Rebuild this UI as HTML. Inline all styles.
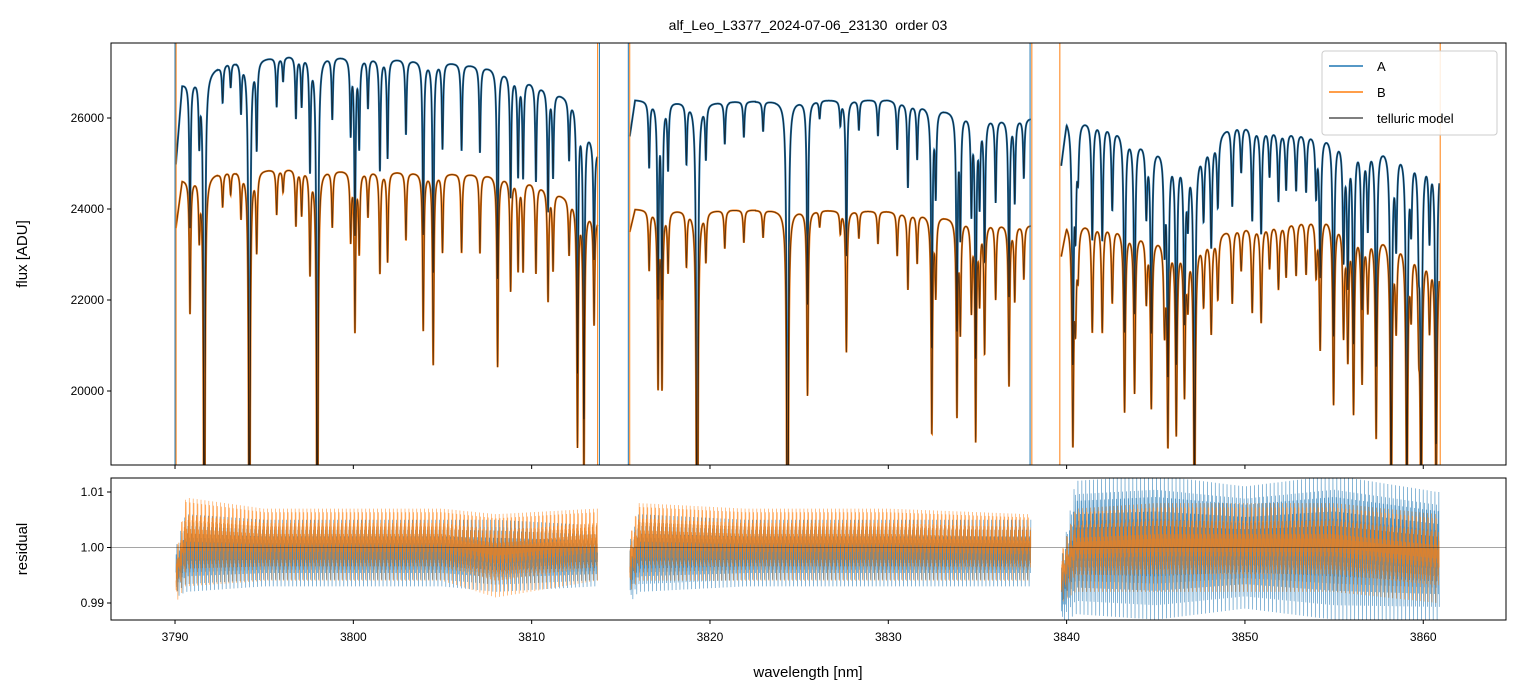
<!DOCTYPE html>
<html><head><meta charset="utf-8">
<style>
html,body{margin:0;padding:0;background:#fff;width:1520px;height:696px;overflow:hidden;}
svg{display:block;font-family:"Liberation Sans","DejaVu Sans",sans-serif;}
</style></head>
<body>
<svg id="chart" width="1520" height="696" viewBox="0 0 1520 696">
<defs>
<clipPath id="clipTop"><rect x="111" y="43" width="1395" height="422"/></clipPath>
<clipPath id="clipBot"><rect x="111" y="478" width="1395" height="142"/></clipPath>
</defs>
<text x="808" y="30" text-anchor="middle" font-size="14">alf_Leo_L3377_2024-07-06_23130&#160; order 03</text>
<g id="topData" clip-path="url(#clipTop)"></g>
<g id="botData" clip-path="url(#clipBot)"></g>
<rect x="111" y="43" width="1395" height="422" fill="none" stroke="#000" stroke-width="1"/>
<rect x="111" y="478" width="1395" height="142" fill="none" stroke="#000" stroke-width="1"/>
<g id="axesG"></g>
<text transform="translate(27,254) rotate(-90)" text-anchor="middle" font-size="15">flux [ADU]</text>
<text transform="translate(27,549) rotate(-90)" text-anchor="middle" font-size="15">residual</text>
<text x="808" y="677" text-anchor="middle" font-size="15">wavelength [nm]</text>
<g>
<rect x="1322" y="51" width="175" height="84" rx="3" fill="#fff" fill-opacity="0.85" stroke="#ccc"/>
<line x1="1329" y1="66" x2="1363" y2="66" stroke="#1f77b4" stroke-width="1.5"/>
<text x="1377" y="71" font-size="13">A</text>
<line x1="1329" y1="92" x2="1363" y2="92" stroke="#ff7f0e" stroke-width="1.5"/>
<text x="1377" y="97" font-size="13">B</text>
<line x1="1329" y1="118" x2="1363" y2="118" stroke="#555" stroke-width="1.5"/>
<text x="1377" y="123" font-size="13">telluric model</text>
</g>
</svg>
<script>
// ---- data ----
const xTicks = [3790,3800,3810,3820,3830,3840,3850,3860];
const fluxTicks = [20000,22000,24000,26000];
const resTicks = [0.99,1.00,1.01];
const resTickLabels = ["0.99","1.00","1.01"];
const segStart = [3790.05, 3815.5, 3839.7];
const segEnd = [3813.7, 3838.0, 3860.9];
const segWidth = [0.045, 0.045, 0.055];
// continuum knots per segment [wl, A, B]
const contSeg1 = [[3790.05,25000,23600],[3790.4,26750,24650],[3793,27250,24850],[3797,27400,24900],[3800,27350,24850],[3805,27250,24800],[3808,27100,24750],[3810,26800,24600],[3812.4,26400,24200],[3813.7,25300,23800]];
const contSeg2 = [[3815.5,25600,23500],[3815.8,26400,24000],[3820,26350,23980],[3826,26400,23980],[3830,26400,23950],[3833,26200,23850],[3836,26000,23700],[3838,26000,23650]];
const contSeg3 = [[3839.7,25000,23000],[3840,26000,23700],[3842,25950,23700],[3844.5,25450,23450],[3847,25150,23250],[3849.3,25900,23600],[3852,25750,23700],[3854.5,25650,23850],[3857,25450,23500],[3859,25350,23350],[3860.9,25150,22950]];
// absorption lines [wavelength, fractional depth]
const linesSeg1 = [[3790.84,0.12],[3791.36,0.05],[3791.64,0.45],[3792.67,0.03],[3793.12,0.02],[3793.70,0.04],[3794.17,0.45],[3794.58,0.07],[3795.70,0.04],[3796.06,0.02],[3796.78,0.05],[3797.1,0.04],[3797.57,0.09],[3797.98,0.45],[3798.82,0.05],[3799.85,0.06],[3800.09,0.14],[3800.33,0.07],[3800.82,0.04],[3801.49,0.09],[3801.92,0.08],[3802.95,0.06],[3803.92,0.14],[3804.48,0.17],[3805.0,0.07],[3806.07,0.07],[3807.1,0.07],[3808.09,0.17],[3808.82,0.1],[3809.24,0.08],[3809.52,0.08],[3810.24,0.08],[3810.92,0.1],[3811.2,0.07],[3812.1,0.05],[3812.57,0.22],[3812.93,0.25],[3813.5,0.1]];
const linesSeg2 = [[3816.59,0.055],[3817.09,0.16],[3817.31,0.16],[3817.65,0.055],[3818.68,0.05],[3819.28,0.5],[3819.77,0.045],[3820.83,0.035],[3821.9,0.03],[3822.98,0.025],[3824.35,0.5],[3825.47,0.17],[3826.15,0.015],[3827.31,0.02],[3827.65,0.13],[3828.35,0.025],[3829.42,0.03],[3830.5,0.04],[3831.1,0.07],[3831.62,0.045],[3832.44,0.2],[3832.66,0.07],[3833.85,0.18],[3834.04,0.1],[3834.66,0.08],[3834.9,0.2],[3835.12,0.07],[3835.4,0.12],[3836.02,0.07],[3836.77,0.15],[3837.09,0.07],[3837.6,0.05]];
const linesSeg3 = [[3840.35,0.2],[3840.50,0.08],[3840.64,0.04],[3841.44,0.1],[3842.0,0.1],[3842.56,0.07],[3843.25,0.17],[3843.81,0.15],[3844.47,0.06],[3844.75,0.16],[3845.49,0.08],[3845.68,0.19],[3846.15,0.18],[3846.61,0.14],[3846.8,0.05],[3847.17,0.28],[3847.68,0.06],[3848.11,0.09],[3848.48,0.06],[3849.29,0.07],[3849.79,0.04],[3850.41,0.08],[3850.91,0.09],[3851.38,0.04],[3851.88,0.06],[3852.31,0.05],[3852.87,0.05],[3853.43,0.05],[3853.99,0.05],[3854.22,0.12],[3854.97,0.17],[3855.53,0.1],[3855.77,0.12],[3856.09,0.17],[3856.57,0.14],[3856.89,0.07],[3857.36,0.19],[3858.2,0.28],[3858.48,0.08],[3859.08,0.28],[3859.32,0.06],[3859.75,0.07],[3859.88,0.28],[3860.35,0.07],[3860.72,0.25]];
// edge spikes (full-height vertical excursions)
const spikesA = [3790.0, 3813.8, 3815.42, 3837.95];
const spikesB = [3790.06, 3813.7, 3815.5, 3838.05, 3839.62, 3860.95];
// residual envelopes per segment [wl, loA, hiA, loB, hiB]
const resEnv1 = [[3790.05,0.991,1.000,0.990,0.999],[3790.6,0.992,1.006,0.993,1.009],[3795,0.993,1.005,0.994,1.007],[3800,0.993,1.005,0.994,1.007],[3805,0.993,1.005,0.994,1.007],[3808,0.992,1.005,0.991,1.006],[3813.6,0.993,1.004,0.994,1.007]];
const resEnv2 = [[3815.5,0.990,1.001,0.992,1.002],[3816,0.992,1.006,0.994,1.008],[3822,0.993,1.005,0.994,1.007],[3830,0.993,1.005,0.994,1.007],[3837.9,0.993,1.005,0.994,1.006]];
const resEnv3 = [[3839.7,0.986,0.998,0.990,0.999],[3840.5,0.988,1.012,0.992,1.007],[3845,0.987,1.013,0.992,1.008],[3850,0.989,1.011,0.992,1.008],[3855,0.987,1.013,0.992,1.008],[3860.8,0.987,1.010,0.990,1.006]];
// fixed fractional scatter pattern within the envelope (cycled)
const scatterA = [0.5,0.85,0.2,0.6,0.35,1.0,0.45,0.1,0.7,0.4,0.55,0.25,0.9,0.5,0.3,0.65,0.0,0.55,0.75,0.4];
const scatterB = [0.45,0.2,0.7,0.35,0.95,0.5,0.6,0.25,0.8,0.4,0.0,0.55,0.65,0.3,0.75,0.5,1.0,0.35,0.6,0.45];

// ---- scales ----
const X0=3786.41, X1=3864.64, PX0=111, PX1=1506;
const F0=18374, F1=27648, TY0=465, TY1=43;
const R0=0.98694, R1=1.01252, BY0=620, BY1=478;
const xs = w => PX0 + (w-X0)/(X1-X0)*(PX1-PX0);
const yf = f => TY0 - (f-F0)/(F1-F0)*(TY0-TY1);
const yr = r => BY0 - (r-R0)/(R1-R0)*(BY0-BY1);
const NS='http://www.w3.org/2000/svg';
function mk(tag, attrs, parent){const e=document.createElementNS(NS,tag);for(const k in attrs)e.setAttribute(k,attrs[k]);parent.appendChild(e);return e;}
function interp(knots, w, col){
  if(w<=knots[0][0]) return knots[0][col];
  for(let i=1;i<knots.length;i++){ if(w<=knots[i][0]){const a=knots[i-1],b=knots[i];const t=(w-a[0])/(b[0]-a[0]);return a[col]+t*(b[col]-a[col]);} }
  return knots[knots.length-1][col];
}
const topG=document.getElementById('topData'), botG=document.getElementById('botData'), axG=document.getElementById('axesG');
const conts=[contSeg1,contSeg2,contSeg3], lines=[linesSeg1,linesSeg2,linesSeg3], envs=[resEnv1,resEnv2,resEnv3];
const segNames=['segment-1','segment-2','segment-3'];

// residuals first (blue under orange)
const resPaths={A:[],B:[]};
for(let s=0;s<3;s++){
  let rA='',rB='',k=0;
  for(let w=segStart[s]; w<=segEnd[s]; w+=0.011){
    const x=xs(w).toFixed(2);
    const loA=interp(envs[s],w,1), hiA=interp(envs[s],w,2);
    const loB=interp(envs[s],w,3), hiB=interp(envs[s],w,4);
    const va=loA+(hiA-loA)*scatterA[k%scatterA.length];
    const vb=loB+(hiB-loB)*scatterB[(k*7)%scatterB.length];
    rA+=(rA?'L':'M')+x+','+yr(va).toFixed(2);
    rB+=(rB?'L':'M')+x+','+yr(vb).toFixed(2);
    k++;
  }
  resPaths.A.push(rA); resPaths.B.push(rB);
}
for(let s=0;s<3;s++){
  const ra=mk('path',{d:resPaths.A[s],fill:'none',stroke:'#1f77b4','stroke-width':0.6,'stroke-opacity':0.85},botG);
  
  
}
for(let s=0;s<3;s++){
  const rb=mk('path',{d:resPaths.B[s],fill:'none',stroke:'#ff7f0e','stroke-width':0.6,'stroke-opacity':0.8},botG);
  
  
}

for(let s=0;s<3;s++){
  let pA='',pB='';
  const g=segWidth[s];
  for(let w=segStart[s]; w<=segEnd[s]; w+=0.008){
    let m=1;
    for(const L of lines[s]){const d=(w-L[0])/g; if(Math.abs(d)<40) m*=1-L[1]/(1+d*d);}
    const a=interp(conts[s],w,1)*m, b=interp(conts[s],w,2)*m;
    const x=xs(w).toFixed(2);
    pA+=(pA?'L':'M')+x+','+yf(a).toFixed(2);
    pB+=(pB?'L':'M')+x+','+yf(b).toFixed(2);
  }
  const la=mk('path',{d:pA,fill:'none',stroke:'#1f77b4','stroke-width':2},topG);
  
  
  const lb=mk('path',{d:pB,fill:'none',stroke:'#ff7f0e','stroke-width':2},topG);
  
  
  const ma=mk('path',{d:pA,fill:'none',stroke:'#111','stroke-width':1,'stroke-opacity':0.75},topG);
  
  
  const mb=mk('path',{d:pB,fill:'none',stroke:'#111','stroke-width':1,'stroke-opacity':0.65},topG);
  
  
}
spikesA.forEach(w=>{const l=mk('line',{x1:xs(w),x2:xs(w),y1:43,y2:465,stroke:'#1f77b4','stroke-width':1},topG);
  
  });
spikesB.forEach(w=>{const l=mk('line',{x1:xs(w),x2:xs(w),y1:43,y2:465,stroke:'#ff7f0e','stroke-width':1},topG);
  
  });
const ref=mk('line',{x1:111,x2:1506,y1:yr(1.0),y2:yr(1.0),stroke:'#000','stroke-width':0.6,'stroke-opacity':0.7},botG);



xTicks.forEach(t=>{
  const x=xs(t);
  const a=mk('line',{x1:x,x2:x,y1:465,y2:469,stroke:'#000'},axG);
  
  
  const b=mk('line',{x1:x,x2:x,y1:620,y2:624,stroke:'#000'},axG);
  
  
  const tx=mk('text',{x:x,y:641,'text-anchor':'middle','font-size':12},axG);
  tx.textContent=t;
  
  
});
fluxTicks.forEach(t=>{
  const y=yf(t);
  const a=mk('line',{x1:107,x2:111,y1:y,y2:y,stroke:'#000'},axG);
  
  
  const tx=mk('text',{x:104,y:y+4,'text-anchor':'end','font-size':12},axG);
  tx.textContent=t;
  
  
});
resTicks.forEach((t,i)=>{
  const y=yr(t);
  const a=mk('line',{x1:107,x2:111,y1:y,y2:y,stroke:'#000'},axG);
  
  
  const tx=mk('text',{x:104,y:y+4,'text-anchor':'end','font-size':12},axG);
  tx.textContent=resTickLabels[i];
  
  
});
</script>
</body></html>
